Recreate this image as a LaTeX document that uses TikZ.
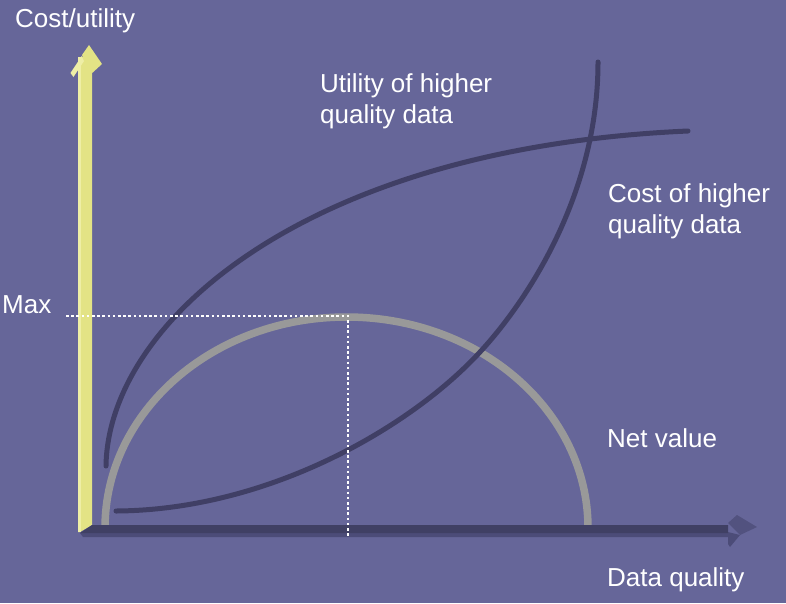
\documentclass[tikz,border=0pt]{standalone}
\usepackage{fontspec}
\setmainfont{Liberation Sans}
\definecolor{bg}{HTML}{666699}
\definecolor{darkcurve}{HTML}{403F65}
\definecolor{netgray}{HTML}{999999}
\definecolor{axyellow}{HTML}{E3E385}
\definecolor{axyellowlt}{HTML}{EEEEA6}
\definecolor{axdark}{HTML}{404064}
\definecolor{axdarklt}{HTML}{4C4C78}
\definecolor{axhead}{HTML}{52527F}
\tikzset{
  lbl/.style={text=white, font=\fontsize{26}{31}\selectfont, inner sep=0pt, anchor=base west, align=left},
  curve/.style={draw=darkcurve, line width=5pt, line cap=round},
  netcurve/.style={draw=netgray, line width=7.5pt},
  guide/.style={draw=white, line width=2.6pt, dash pattern=on 2.6pt off 2.6pt}
}
\begin{document}
\begin{tikzpicture}[x=1pt,y=-1pt]
\fill[bg] (0,0) rectangle (786,603);
\useasboundingbox (0,0) rectangle (786,603);
% net value
\draw[netcurve] (105,528) arc[start angle=180, end angle=360, x radius=241.5, y radius=211];
% utility
\draw[curve] (106,466) .. controls (108,325) and (300,148) .. (688,131);
% cost
\draw[curve] (116,511) .. controls (270,510) and (412,426) .. (480,352)
                       .. controls (521,308) and (598,200) .. (598,62);
% vertical axis
\fill[axyellow] (78,57) -- (92,57) -- (92,525) -- (80,532) -- (78,532) -- cycle;
\fill[axyellowlt] (78,57) -- (81,57) -- (81,532) -- (78,532) -- cycle;
\fill[axyellowlt] (70.5,73) -- (81.7,56) -- (84,61) -- (73.5,77) -- cycle;
\fill[axyellow] (89,45) -- (102,64) -- (90,75) -- (82,55) -- cycle;
% horizontal axis
\fill[axdarklt] (80,533) -- (728,533) -- (730,537) -- (83,537) -- cycle;
\fill[axdark] (92,525) -- (728,525) -- (728,533) -- (80,533) -- cycle;
\fill[axdarklt] (728,532) -- (740,535) -- (730,547) -- (728,544) -- cycle;
\fill[axhead] (737,515) -- (757,527) -- (740,535) -- (728,523) -- cycle;
% guides
\coordinate (maxleft) at (66,316);
\coordinate (maxpt) at (348,316);
\coordinate (maxbot) at (348,536);
\draw[guide] (maxleft) -- (maxpt) -- (maxbot);
% labels
\node[lbl] (ylabel) at (15,27) {Cost/utility};
\node[lbl] (util) at (320,123) {Utility of higher\\quality data};
\node[lbl] (cost) at (608,233) {Cost of higher\\quality data};
\node[lbl] (maxl) at (2,313) {Max};
\node[lbl] (net) at (607,447) {Net value};
\node[lbl] (xlabel) at (607,586) {Data quality};
\end{tikzpicture}
\end{document}
